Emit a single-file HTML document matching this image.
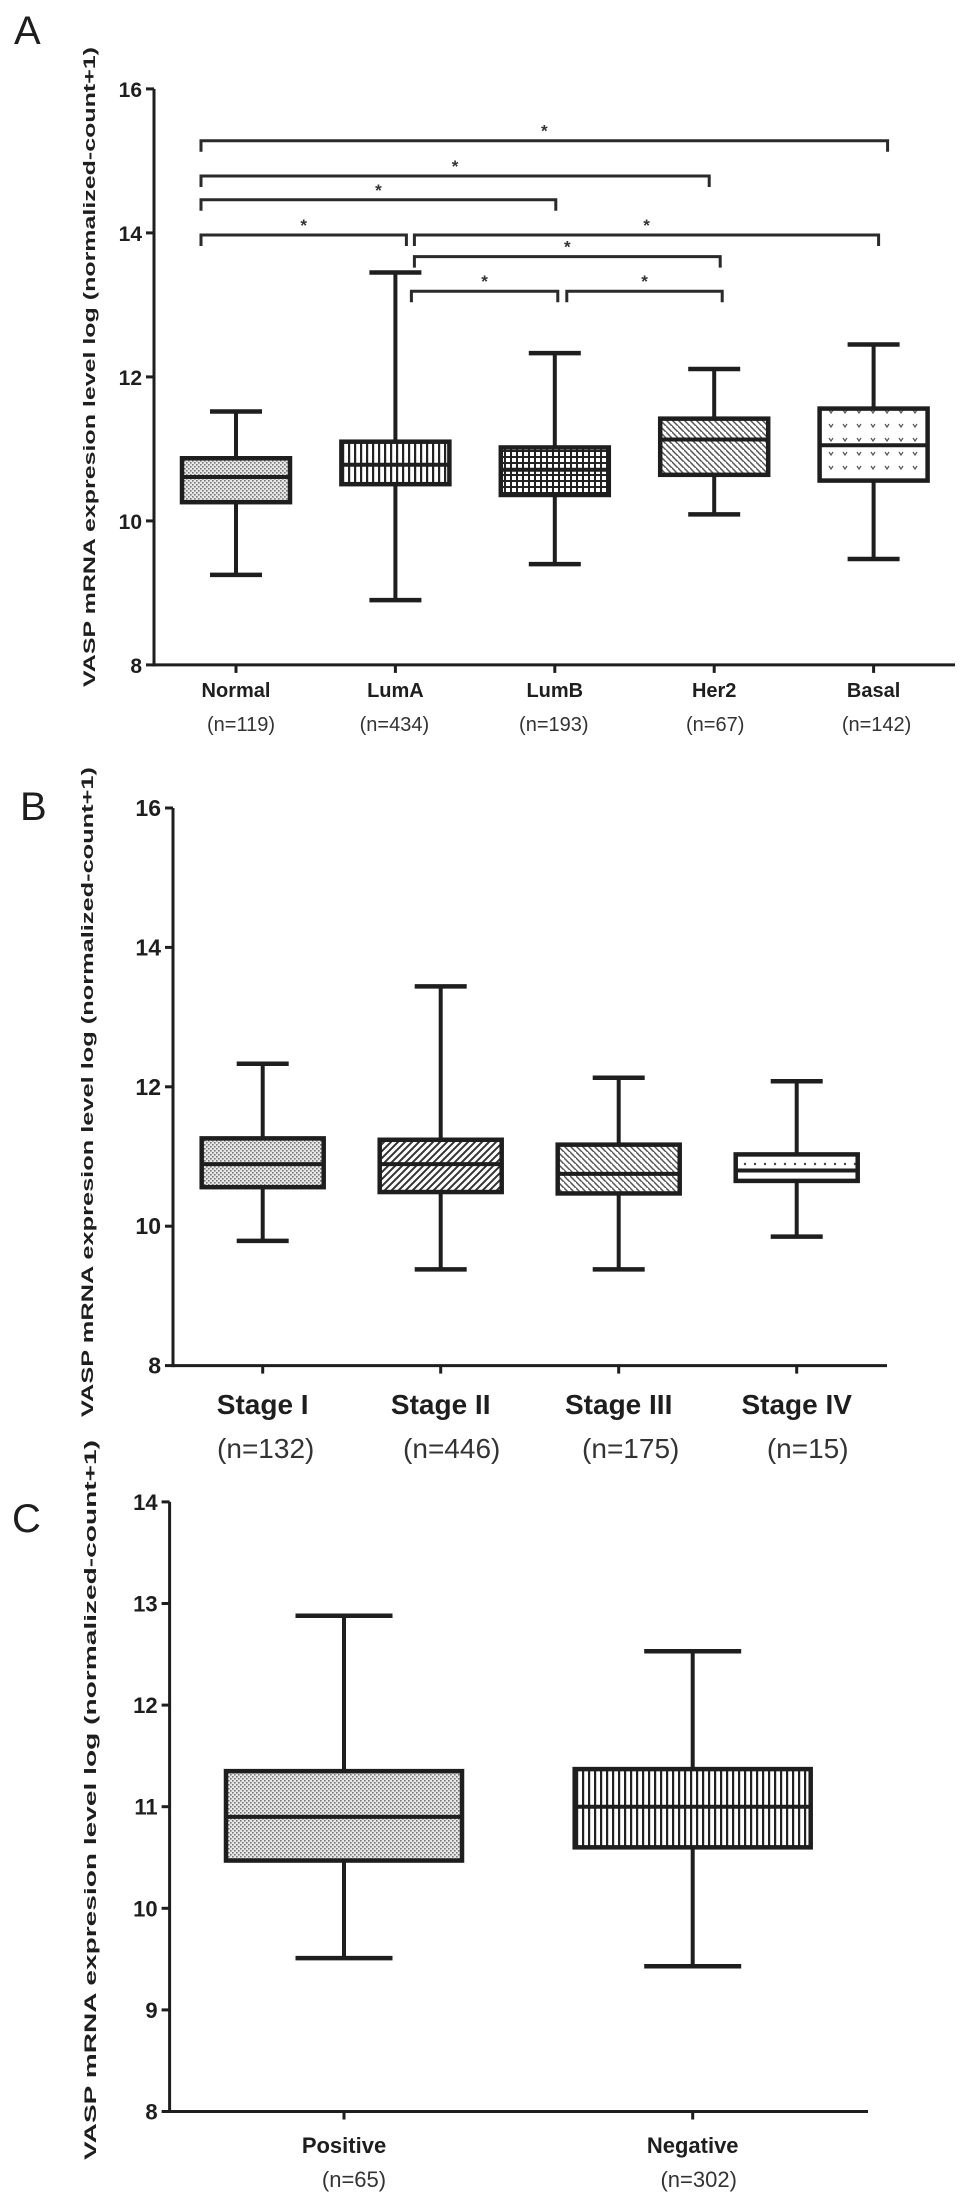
<!DOCTYPE html>
<html><head><meta charset="utf-8">
<style>
html,body{margin:0;padding:0;background:#fff;}
svg{display:block;font-family:"Liberation Sans",Arial,sans-serif;}
</style></head>
<body>
<svg id="fig" width="969" height="2205" viewBox="0 0 969 2205" xmlns="http://www.w3.org/2000/svg">
<defs>
 <pattern id="pDots" width="4" height="4" patternUnits="userSpaceOnUse"><rect width="4" height="4" fill="#e8e8e8"/><rect x="0" y="0" width="1.6" height="1.6" fill="#777"/><rect x="2" y="2" width="1.6" height="1.6" fill="#777"/></pattern>
 <pattern id="pVert" width="6" height="10" patternUnits="userSpaceOnUse"><rect width="6" height="10" fill="#fff"/><rect x="0" y="0" width="2.2" height="10" fill="#222"/></pattern>
 <pattern id="pGrid" width="6" height="6" patternUnits="userSpaceOnUse"><rect width="6" height="6" fill="#fff"/><rect x="0" y="0" width="2" height="6" fill="#222"/><rect x="0" y="0" width="6" height="2" fill="#222"/></pattern>
 <pattern id="pBack" width="6" height="6" patternUnits="userSpaceOnUse"><rect width="6" height="6" fill="#fff"/><path d="M-1,-1 L7,7 M-4,2 L2,8 M4,-4 L10,2" stroke="#555" stroke-width="1.5"/></pattern>
 <pattern id="pFwd" width="7" height="7" patternUnits="userSpaceOnUse"><rect width="7" height="7" fill="#fff"/><path d="M-1,8 L8,-1 M-4,4 L4,-4 M3,11 L11,3" stroke="#333" stroke-width="2"/></pattern>
 <pattern id="pV" width="14" height="14" patternUnits="userSpaceOnUse"><rect width="14" height="14" fill="#fff"/><path d="M3,4 L5,7 L7,4" stroke="#555" stroke-width="1.2" fill="none"/></pattern>
 <pattern id="pTopDots" width="10" height="40" patternUnits="userSpaceOnUse"><rect width="10" height="40" fill="#fff"/><circle cx="5" cy="4" r="1.2" fill="#444"/></pattern>
</defs>
<g id="root"></g>
</svg>
<script>
// ---------- Panel A data ----------
const catsA = ["Normal","LumA","LumB","Her2","Basal"];
const nA = ["(n=119)","(n=434)","(n=193)","(n=67)","(n=142)"];
const lowA = [9.25, 8.9, 9.40, 10.09, 9.47];
const q1A = [10.26, 10.51, 10.36, 10.64, 10.56];
const medA = [10.61, 10.78, 10.71, 11.13, 11.05];
const q3A = [10.87, 11.10, 11.02, 11.42, 11.56];
const highA = [11.52, 13.45, 12.33, 12.11, 12.45];
const fillA = ["pDots","pVert","pGrid","pBack","pV"];
const ticksA = [8,10,12,14,16];
const brFrom = [0,0,0,0,1,1,1,2];
const brTo = [4,3,2,1,4,3,2,3];
const brLevel = [15.28,14.79,14.46,13.97,13.97,13.67,13.19,13.19];
// ---------- Panel B data ----------
const catsB = ["Stage I","Stage II","Stage III","Stage IV"];
const nB = ["(n=132)","(n=446)","(n=175)","(n=15)"];
const lowB = [9.79, 9.38, 9.38, 9.85];
const q1B = [10.56, 10.49, 10.47, 10.65];
const medB = [10.89, 10.89, 10.75, 10.80];
const q3B = [11.26, 11.24, 11.17, 11.03];
const highB = [12.33, 13.44, 12.13, 12.08];
const fillB = ["pDots","pFwd","pBack","pTopDots"];
const ticksB = [8,10,12,14,16];
// ---------- Panel C data ----------
const catsC = ["Positive","Negative"];
const nC = ["(n=65)","(n=302)"];
const lowC = [9.51, 9.43];
const q1C = [10.47, 10.60];
const medC = [10.90, 11.00];
const q3C = [11.35, 11.37];
const highC = [12.88, 12.53];
const fillC = ["pDots","pVert"];
const ticksC = [8,9,10,11,12,13,14];

const NS="http://www.w3.org/2000/svg";
const root=document.getElementById('root');
function mk(tag, attrs, parent){const e=document.createElementNS(NS,tag);for(const k in attrs)e.setAttribute(k,attrs[k]);(parent||root).appendChild(e);return e;}
const INK="#1e1e1e";

function panel(cfg){
  const g=mk('g',{});
  
  
  const y=v=>cfg.y0-(v-cfg.vmin)*cfg.ppu;
  const x=i=>cfg.x0+i*cfg.dx;
  // axes
  const ya=mk('line',{x1:cfg.ax,y1:y(cfg.ticks[cfg.ticks.length-1]),x2:cfg.ax,y2:y(cfg.vmin)+1.5,stroke:INK,'stroke-width':3},g);
  
  
  const xa=mk('line',{x1:cfg.ax,y1:y(cfg.vmin),x2:cfg.axEnd,y2:y(cfg.vmin),stroke:INK,'stroke-width':3},g);
  
  
  cfg.ticks.forEach(t=>{
    mk('line',{x1:cfg.ax-8,y1:y(t),x2:cfg.ax,y2:y(t),stroke:INK,'stroke-width':3},g);
    const tl=mk('text',{x:cfg.ax-12,y:y(t)+8,'text-anchor':'end','font-size':cfg.tickFs,'font-weight':'bold',fill:INK},g);
    tl.textContent=t;
    
    
  });
  // y title
  const tt=mk('text',{x:0,y:0,transform:`translate(${cfg.titleX},${cfg.titleY}) rotate(-90)`,'text-anchor':'middle','font-size':cfg.titleFs,'font-weight':'bold',fill:INK,textLength:cfg.titleLen,lengthAdjust:'spacingAndGlyphs'},g);
  tt.textContent="VASP mRNA expresion level log (normalized-count+1)";
  
  
  // panel letter
  const pl=mk('text',{x:cfg.letterX,y:cfg.letterY,'font-size':40,fill:INK},g);
  pl.textContent=cfg.letter;
  
  
  cfg.cats.forEach((c,i)=>{
    const cx=x(i);
    mk('line',{x1:cx,y1:y(cfg.vmin),x2:cx,y2:y(cfg.vmin)+8,stroke:INK,'stroke-width':3},g);
    const bg=mk('g',{},g);
    
    
    const hw=cfg.bw/2, cw=cfg.cw/2;
    mk('line',{x1:cx,y1:y(cfg.high[i]),x2:cx,y2:y(cfg.low[i]),stroke:INK,'stroke-width':4},bg);
    mk('line',{x1:cx-cw,y1:y(cfg.high[i]),x2:cx+cw,y2:y(cfg.high[i]),stroke:INK,'stroke-width':4.5},bg);
    mk('line',{x1:cx-cw,y1:y(cfg.low[i]),x2:cx+cw,y2:y(cfg.low[i]),stroke:INK,'stroke-width':4.5},bg);
    mk('rect',{x:cx-hw,y:y(cfg.q3[i]),width:cfg.bw,height:y(cfg.q1[i])-y(cfg.q3[i]),fill:'url(#'+cfg.fill[i]+')',stroke:INK,'stroke-width':4.5},bg);
    mk('line',{x1:cx-hw,y1:y(cfg.med[i]),x2:cx+hw,y2:y(cfg.med[i]),stroke:INK,'stroke-width':4},bg);
    const cl=mk('text',{x:cx,y:cfg.catY,'text-anchor':'middle','font-size':cfg.catFs,'font-weight':'bold',fill:INK},g);
    cl.textContent=c;
    
    
    const nl=mk('text',{x:cx+cfg.nDx[i],y:cfg.nY,'text-anchor':'middle','font-size':cfg.nFs,fill:'#333'},g);
    nl.textContent=cfg.n[i];
    
    
  });
  return {x,y,g};
}

const A=panel({name:'panel-a',letter:'A',letterX:14,letterY:44,ax:154,axEnd:955,x0:236,dx:159.4,y0:664.9,vmin:8,ppu:72,
  ticks:ticksA,tickFs:21,titleX:95,titleY:367,titleFs:17,titleLen:640,
  cats:catsA,n:nA,low:lowA,q1:q1A,med:medA,q3:q3A,high:highA,fill:fillA,bw:108,cw:52,
  catY:697,catFs:20,nY:731,nFs:20,nDx:[5,-1,-1,1,3]});
// brackets
const brDx0=[-35,-35,-35,-35,19,19,16,12];
const brDx1=[14,-5,1,11,5,6,3,8];
brFrom.forEach((f,k)=>{
  const x1=A.x(f)+brDx0[k], x2=A.x(brTo[k])+brDx1[k], yy=A.y(brLevel[k]);
  const bg=mk('g',{},A.g);
  
  
  mk('path',{d:`M${x1},${yy+11} L${x1},${yy} L${x2},${yy} L${x2},${yy+11}`,fill:'none',stroke:'#2a2a2a','stroke-width':3},bg);
  const st=mk('text',{x:(x1+x2)/2,y:yy-4,'text-anchor':'middle','font-size':17,'font-weight':'bold',fill:'#333'},bg);
  st.textContent='*';
});

panel({name:'panel-b',letter:'B',letterX:20,letterY:820,ax:173,axEnd:887,x0:262.7,dx:178,y0:1365.6,vmin:8,ppu:69.7,
  ticks:ticksB,tickFs:23,titleX:93,titleY:1092,titleFs:17,titleLen:650,
  cats:catsB,n:nB,low:lowB,q1:q1B,med:medB,q3:q3B,high:highB,fill:fillB,bw:122,cw:52,
  catY:1414,catFs:28,nY:1458,nFs:28,nDx:[3,11,12,11]});

panel({name:'panel-c',letter:'C',letterX:12,letterY:1532,ax:169.6,axEnd:868,x0:344,dx:348.7,y0:2111.5,vmin:8,ppu:101.6,
  ticks:ticksC,tickFs:22,titleX:96,titleY:1800,titleFs:17,titleLen:720,
  cats:catsC,n:nC,low:lowC,q1:q1C,med:medC,q3:q3C,high:highC,fill:fillC,bw:236,cw:97,
  catY:2153,catFs:22,nY:2187,nFs:22,nDx:[10,6]});
</script>
</body></html>
